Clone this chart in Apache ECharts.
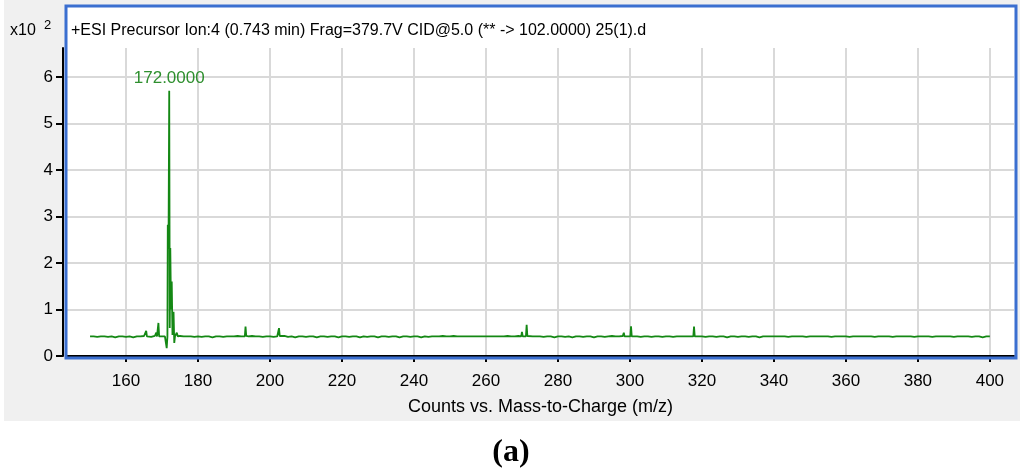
<!DOCTYPE html>
<html>
<head>
<meta charset="utf-8">
<script src="https://cdn.jsdelivr.net/npm/echarts@6/dist/echarts.min.js"></script>
<style>
  html, body { margin: 0; padding: 0; background: #fff; }
  #chart { width: 1024px; height: 475px; }
</style>
</head>
<body>
<div id="chart"></div>
<script>
const titleText = '+ESI Precursor Ion:4 (0.743 min) Frag=379.7V CID@5.0 (** -> 102.0000) 25(1).d';
const xName = 'Counts vs. Mass-to-Charge (m/z)';
const xTicks = [160, 180, 200, 220, 240, 260, 280, 300, 320, 340, 360, 380, 400];
const yTicks = [0, 1, 2, 3, 4, 5, 6];

// baseline, one value per m/z from 150 to 400 (x10^2 counts)
const baseStart = 150;
const baseline = [
  0.42, 0.42, 0.41, 0.42, 0.42, 0.41, 0.42, 0.40, 0.42, 0.42,
  0.41, 0.42, 0.40, 0.42, 0.42, 0.43, 0.42, 0.41, 0.43, 0.42,
  0.42, 0.42, 0.42, 0.42, 0.42, 0.43, 0.42, 0.42, 0.42, 0.41,
  0.42, 0.41, 0.42, 0.42, 0.40, 0.42, 0.42, 0.41, 0.42, 0.42,
  0.42, 0.43, 0.42, 0.42, 0.42, 0.43, 0.42, 0.42, 0.41, 0.42,
  0.42, 0.41, 0.42, 0.42, 0.43, 0.41, 0.42, 0.40, 0.42, 0.42,
  0.41, 0.42, 0.42, 0.40, 0.42, 0.42, 0.41, 0.42, 0.42, 0.40,
  0.42, 0.42, 0.41, 0.42, 0.42, 0.40, 0.42, 0.41, 0.42, 0.42,
  0.40, 0.42, 0.42, 0.41, 0.42, 0.42, 0.40, 0.42, 0.42, 0.41,
  0.42, 0.42, 0.40, 0.42, 0.41, 0.42, 0.42, 0.42, 0.43, 0.42,
  0.42, 0.43, 0.42, 0.42, 0.42, 0.42, 0.42, 0.42, 0.42, 0.42,
  0.42, 0.42, 0.42, 0.42, 0.42, 0.42, 0.43, 0.42, 0.42, 0.43,
  0.42, 0.42, 0.43, 0.42, 0.42, 0.42, 0.41, 0.42, 0.42, 0.40,
  0.42, 0.42, 0.41, 0.42, 0.40, 0.42, 0.42, 0.41, 0.42, 0.42,
  0.40, 0.42, 0.42, 0.41, 0.42, 0.43, 0.42, 0.42, 0.43, 0.42,
  0.42, 0.43, 0.42, 0.41, 0.42, 0.42, 0.41, 0.42, 0.42, 0.41,
  0.42, 0.42, 0.41, 0.42, 0.42, 0.42, 0.42, 0.42, 0.43, 0.42,
  0.42, 0.41, 0.42, 0.42, 0.41, 0.42, 0.42, 0.40, 0.42, 0.42,
  0.41, 0.42, 0.42, 0.41, 0.42, 0.42, 0.40, 0.42, 0.42, 0.42,
  0.42, 0.42, 0.42, 0.42, 0.41, 0.42, 0.42, 0.42, 0.42, 0.41,
  0.42, 0.42, 0.42, 0.42, 0.42, 0.42, 0.41, 0.42, 0.42, 0.42,
  0.42, 0.41, 0.42, 0.42, 0.42, 0.42, 0.42, 0.42, 0.41, 0.42,
  0.42, 0.42, 0.42, 0.41, 0.42, 0.42, 0.42, 0.42, 0.42, 0.41,
  0.42, 0.42, 0.42, 0.42, 0.41, 0.42, 0.42, 0.42, 0.42, 0.42,
  0.41, 0.42, 0.42, 0.42, 0.42, 0.41, 0.42, 0.42, 0.40, 0.42,
  0.42
];

// peaks, [m/z, x10^2 counts]
const peaks165 = [[165.4, 0.42], [165.6, 0.54], [165.8, 0.42]];
const peaks168 = [[168.2, 0.42], [168.4, 0.50], [168.6, 0.42], [168.8, 0.42], [169.0, 0.71], [169.2, 0.42]];
const peaks172 = [
  [170.8, 0.42], [171.1, 0.38], [171.3, 0.17], [171.5, 0.42], [171.6, 2.82], [171.8, 2.30],
  [172.0, 5.70], [172.15, 0.60], [172.3, 2.32], [172.5, 1.00], [172.7, 1.60], [172.9, 0.45],
  [173.2, 0.95], [173.4, 0.28], [173.6, 0.42], [174.1, 0.50], [174.4, 0.42]
];
const peaks193 = [[193.0, 0.42], [193.2, 0.63], [193.4, 0.43]];
const peaks202 = [[202.3, 0.42], [202.5, 0.60], [202.7, 0.43]];
const peaks270 = [[269.8, 0.42], [270.0, 0.52], [270.2, 0.42], [271.1, 0.42], [271.3, 0.67], [271.5, 0.43]];
const peaks300 = [[298.1, 0.42], [298.3, 0.50], [298.5, 0.42], [300.1, 0.42], [300.3, 0.64], [300.5, 0.42]];
const peaks318 = [[317.6, 0.42], [317.8, 0.63], [318.0, 0.42]];
const peaks340 = [[340.1, 0.42], [340.3, 0.46], [340.5, 0.42]];

const clusters = [peaks165, peaks168, peaks172, peaks193, peaks202, peaks270, peaks300, peaks318, peaks340];

let points = baseline
  .map((v, i) => [baseStart + i, v])
  .filter(p => !clusters.some(c => p[0] >= c[0][0] && p[0] <= c[c.length - 1][0]));
clusters.forEach(c => { points = points.concat(c); });
points.sort((a, b) => a[0] - b[0]);

const font = 'Liberation Sans, Arial, sans-serif';
const green = '#148814';

const chart = echarts.init(document.getElementById('chart'));
chart.setOption({
  animation: false,
  backgroundColor: '#ffffff',
  grid: { left: 67, right: 10, top: 48, bottom: 119 },
  graphic: [
    { type: 'rect', z: -20, shape: { x: 4, y: 0, width: 1016, height: 421 }, style: { fill: '#f0f0f0' } },
    { type: 'rect', z: -10, shape: { x: 66, y: 6, width: 950, height: 352 }, style: { fill: '#ffffff' } },
    { type: 'rect', z: 100, shape: { x: 66, y: 6, width: 950, height: 352 }, style: { fill: 'none', stroke: '#3b6fd0', lineWidth: 3 } },
    { type: 'text', z: 100, x: 71, y: 31, style: { text: titleText, font: '16px ' + font, fill: '#000', verticalAlign: 'middle' } },
    { type: 'text', z: 100, x: 10, y: 31, style: { text: 'x10', font: '16px ' + font, fill: '#000', verticalAlign: 'middle' } },
    { type: 'text', z: 100, x: 44, y: 25, style: { text: '2', font: '13px ' + font, fill: '#000', verticalAlign: 'middle' } },
    { type: 'text', z: 100, x: 511, y: 453, style: { text: '(a)', font: 'bold 32px Liberation Serif, Times New Roman, serif', fill: '#000', align: 'center', verticalAlign: 'middle' } }
  ],
  xAxis: {
    type: 'value',
    min: 143.6,
    max: 406.7,
    offset: 7,
    name: xName,
    nameLocation: 'middle',
    nameGap: 35,
    nameTextStyle: { fontFamily: font, fontSize: 18, color: '#000' },
    axisLine: { show: true, lineStyle: { color: '#000', width: 2 } },
    axisTick: { show: true, length: 6, customValues: xTicks, lineStyle: { color: '#000', width: 2 } },
    axisLabel: { customValues: xTicks, margin: 10, fontFamily: font, fontSize: 17, color: '#000' },
    splitLine: { show: true, lineStyle: { color: '#d9d9d9', width: 2 } }
  },
  yAxis: {
    type: 'value',
    min: 0,
    max: 6.62,
    offset: 4,
    axisLine: { show: true, lineStyle: { color: '#000', width: 2 } },
    axisTick: { show: true, length: 7, customValues: yTicks, lineStyle: { color: '#000', width: 2 } },
    axisLabel: { customValues: yTicks, margin: 10, fontFamily: font, fontSize: 17, color: '#000' },
    splitLine: { show: true, lineStyle: { color: '#d9d9d9', width: 2 } }
  },
  series: [{
    type: 'line',
    data: points,
    showSymbol: false,
    lineStyle: { color: green, width: 1.8 },
    markPoint: {
      symbol: 'circle',
      symbolSize: 0,
      data: [{ type: 'max' }],
      label: {
        show: true,
        position: 'top',
        distance: 4,
        formatter: p => p.data.coord[0].toFixed(4),
        fontFamily: font,
        fontSize: 17,
        color: '#2e8f2e'
      }
    }
  }]
});
</script>
</body>
</html>
